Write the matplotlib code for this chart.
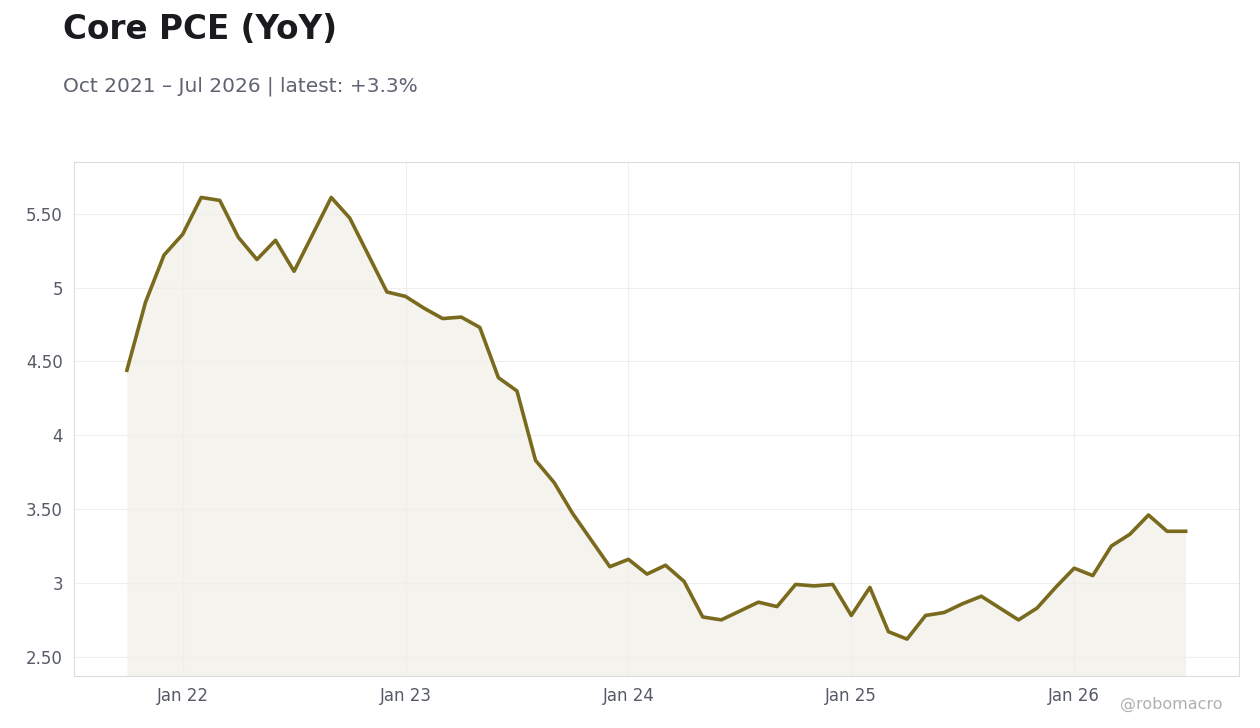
import matplotlib.pyplot as plt
import numpy as np

plt.rcParams['font.family'] = ['DejaVu Sans']

# monthly values, Oct 2021 .. Jul 2026
values = [4.44, 4.90, 5.22, 5.36, 5.61, 5.59, 5.34, 5.19, 5.32, 5.11, 5.36, 5.61,
          5.47, 5.22, 4.97, 4.94, 4.86, 4.79, 4.80, 4.73, 4.39, 4.30, 3.83, 3.68,
          3.47, 3.29, 3.11, 3.16, 3.06, 3.12, 3.01, 2.77, 2.75, 2.81, 2.87, 2.84,
          2.99, 2.98, 2.99, 2.78, 2.97, 2.67, 2.62, 2.78, 2.80, 2.86, 2.91, 2.83,
          2.75, 2.83, 2.97, 3.10, 3.05, 3.25, 3.33, 3.46, 3.35, 3.35]
x_ticks = [3, 15, 27, 39, 51]
x_labels = ["Jan 22", "Jan 23", "Jan 24", "Jan 25", "Jan 26"]
y_ticks = [2.5, 3, 3.5, 4, 4.5, 5, 5.5]
y_labels = ["2.50", "3", "3.50", "4", "4.50", "5", "5.50"]

line_c = "#7a6a1e"
x = np.arange(len(values))

fig = plt.figure(figsize=(12.6, 7.28), dpi=100)
ax = fig.add_axes([0.0587, 0.0714, 0.9243, 0.7061])
ymin = 2.37
ax.fill_between(x, values, ymin, color=line_c, alpha=0.08, lw=0)
ax.plot(x, values, color=line_c, lw=2.6)
ax.set_xlim(-2.85, 59.85)
ax.set_ylim(ymin, 5.85)
ax.set_xticks(x_ticks, x_labels)
ax.set_yticks(y_ticks, y_labels)
ax.tick_params(colors="#555a66", labelsize=12, length=0, pad=8)
ax.grid(True, color="#eeeeee", lw=0.8)
for s in ax.spines.values():
    s.set_color("#dddddd")

fig.text(0.05, 0.96, "Core PCE (YoY)", fontsize=23.5, fontweight="bold", color="#1a1a1f", va="center")
fig.text(0.05, 0.882, "Oct 2021 \u2013 Jul 2026 | latest: +3.3%", fontsize=14.5, color="#5f6270", va="center")
fig.text(0.97, 0.032, "@robomacro", fontsize=11.5, color="#b0b0b0", ha="right", va="center")

fig.savefig("out.png", dpi=100)
